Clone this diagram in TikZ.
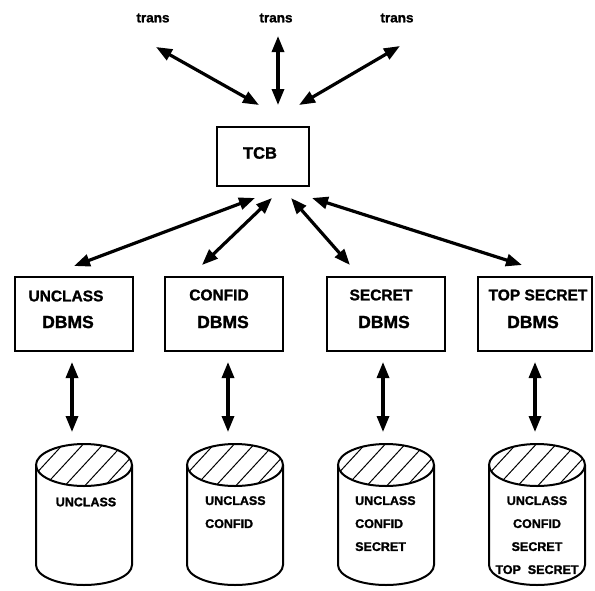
\documentclass[tikz,border=0pt]{standalone}
\usepackage{fontspec}
\setmainfont{Liberation Sans}[BoldFeatures={FakeBold=1.4}]
\usetikzlibrary{arrows.meta}

\tikzset{
  lbl/.style={font=\bfseries\fontsize{13.5}{15}\selectfont, inner sep=0pt},
  boxtxt/.style={font=\bfseries\fontsize{15.5}{18}\selectfont},
  bigtxt/.style={font=\bfseries\fontsize{17.5}{20}\selectfont},
  cyltxt/.style={font=\bfseries\fontsize{12.5}{23}\selectfont, inner sep=0pt},
  boxline/.style={line width=2.4pt},
  tip/.tip={Triangle[length=16pt,width=12pt]},
  dbl/.style={line width=3.2pt, tip-tip},
  hatch/.style={line width=1pt},
  cylline/.style={line width=2pt},
  dbcyl/.pic={
    \begin{scope}
      \clip (0,0) ellipse [x radius=48pt, y radius=21pt];
      \foreach \i in {-60,-40,...,60}
        \draw[hatch] (\i-24,26) -- (\i+24,-26);
    \end{scope}
    \draw[cylline] (-48,0) -- (-48,100)
      arc [start angle=180, end angle=360, x radius=48pt, y radius=20pt]
      -- (48,0);
    \draw[cylline] (0,0) ellipse [x radius=48pt, y radius=21pt];
  }
}

\begin{document}
\begin{tikzpicture}[x=1pt,y=-1pt]
\useasboundingbox (0,0) rectangle (595,590);

% transactions
\node[lbl] (tr1) at (153,18) {trans};
\node[lbl] (tr2) at (276,18) {trans};
\node[lbl] (tr3) at (397,18) {trans};
\coordinate (tr1e) at (156,47);
\coordinate (tr2e) at (278,36);
\coordinate (tr3e) at (400,46);

% trusted computing base
\draw[boxline] (217,127) rectangle (309,186);
\node[font=\bfseries\fontsize{16.5}{20}\selectfont] (tcb) at (260,153) {TCB};
\coordinate (tcbi1) at (259,105);
\coordinate (tcbi2) at (278,105);
\coordinate (tcbi3) at (299,105);
\coordinate (tcbo1) at (255,198);
\coordinate (tcbo2) at (272,198);
\coordinate (tcbo3) at (291,198);
\coordinate (tcbo4) at (312,198);

\draw[dbl] (tr1e) -- (tcbi1);
\draw[dbl] (tr2e) -- (tcbi2);
\draw[dbl] (tr3e) -- (tcbi3);

% untrusted DBMS boxes
\draw[boxline] (15,277) rectangle (133,351);
\draw[boxline] (165,277) rectangle (283,351);
\draw[boxline] (327,277) rectangle (445,351);
\draw[boxline] (478,277) rectangle (592,351);
\node[boxtxt] (u1) at (66,296) {UNCLASS};
\node[bigtxt] (u2) at (68,322) {DBMS};
\node[boxtxt] (c1) at (219,295) {CONFID};
\node[bigtxt] (c2) at (223,322) {DBMS};
\node[boxtxt] (s1) at (381,295) {SECRET};
\node[bigtxt] (s2) at (384,322) {DBMS};
\node[boxtxt] (ts1) at (538,295) {TOP SECRET};
\node[bigtxt] (ts2) at (533,322) {DBMS};

\coordinate (b1t) at (74,266);
\coordinate (b2t) at (202,265);
\coordinate (b3t) at (350,265);
\coordinate (b4t) at (522,265);
\draw[dbl] (tcbo1) -- (b1t);
\draw[dbl] (tcbo2) -- (b2t);
\draw[dbl] (tcbo3) -- (b3t);
\draw[dbl] (tcbo4) -- (b4t);

% DBMS to database links
\coordinate (b1b) at (72,362);
\coordinate (b2b) at (228,362);
\coordinate (b3b) at (383,362);
\coordinate (b4b) at (535,362);
\coordinate (d1t) at (72,432);
\coordinate (d2t) at (228,432);
\coordinate (d3t) at (383,432);
\coordinate (d4t) at (535,432);
\draw[dbl] (b1b) -- (d1t);
\draw[dbl] (b2b) -- (d2t);
\draw[dbl] (b3b) -- (d3t);
\draw[dbl] (b4b) -- (d4t);

% databases
\pic at (84,465) {dbcyl};
\pic at (235,465) {dbcyl};
\pic at (386,465) {dbcyl};
\pic at (537,465) {dbcyl};

\node[cyltxt] (db1) at (86,502) {UNCLASS};
\node[cyltxt, align=left, anchor=north west] (db2) at (205,496) {UNCLASS\\CONFID};
\node[cyltxt, align=left, anchor=north west] (db3) at (355,496) {UNCLASS\\CONFID\\SECRET};
\node[cyltxt, align=center, anchor=north] (db4) at (537,496) {UNCLASS\\CONFID\\SECRET\\TOP\ \ SECRET};
\end{tikzpicture}
\end{document}
